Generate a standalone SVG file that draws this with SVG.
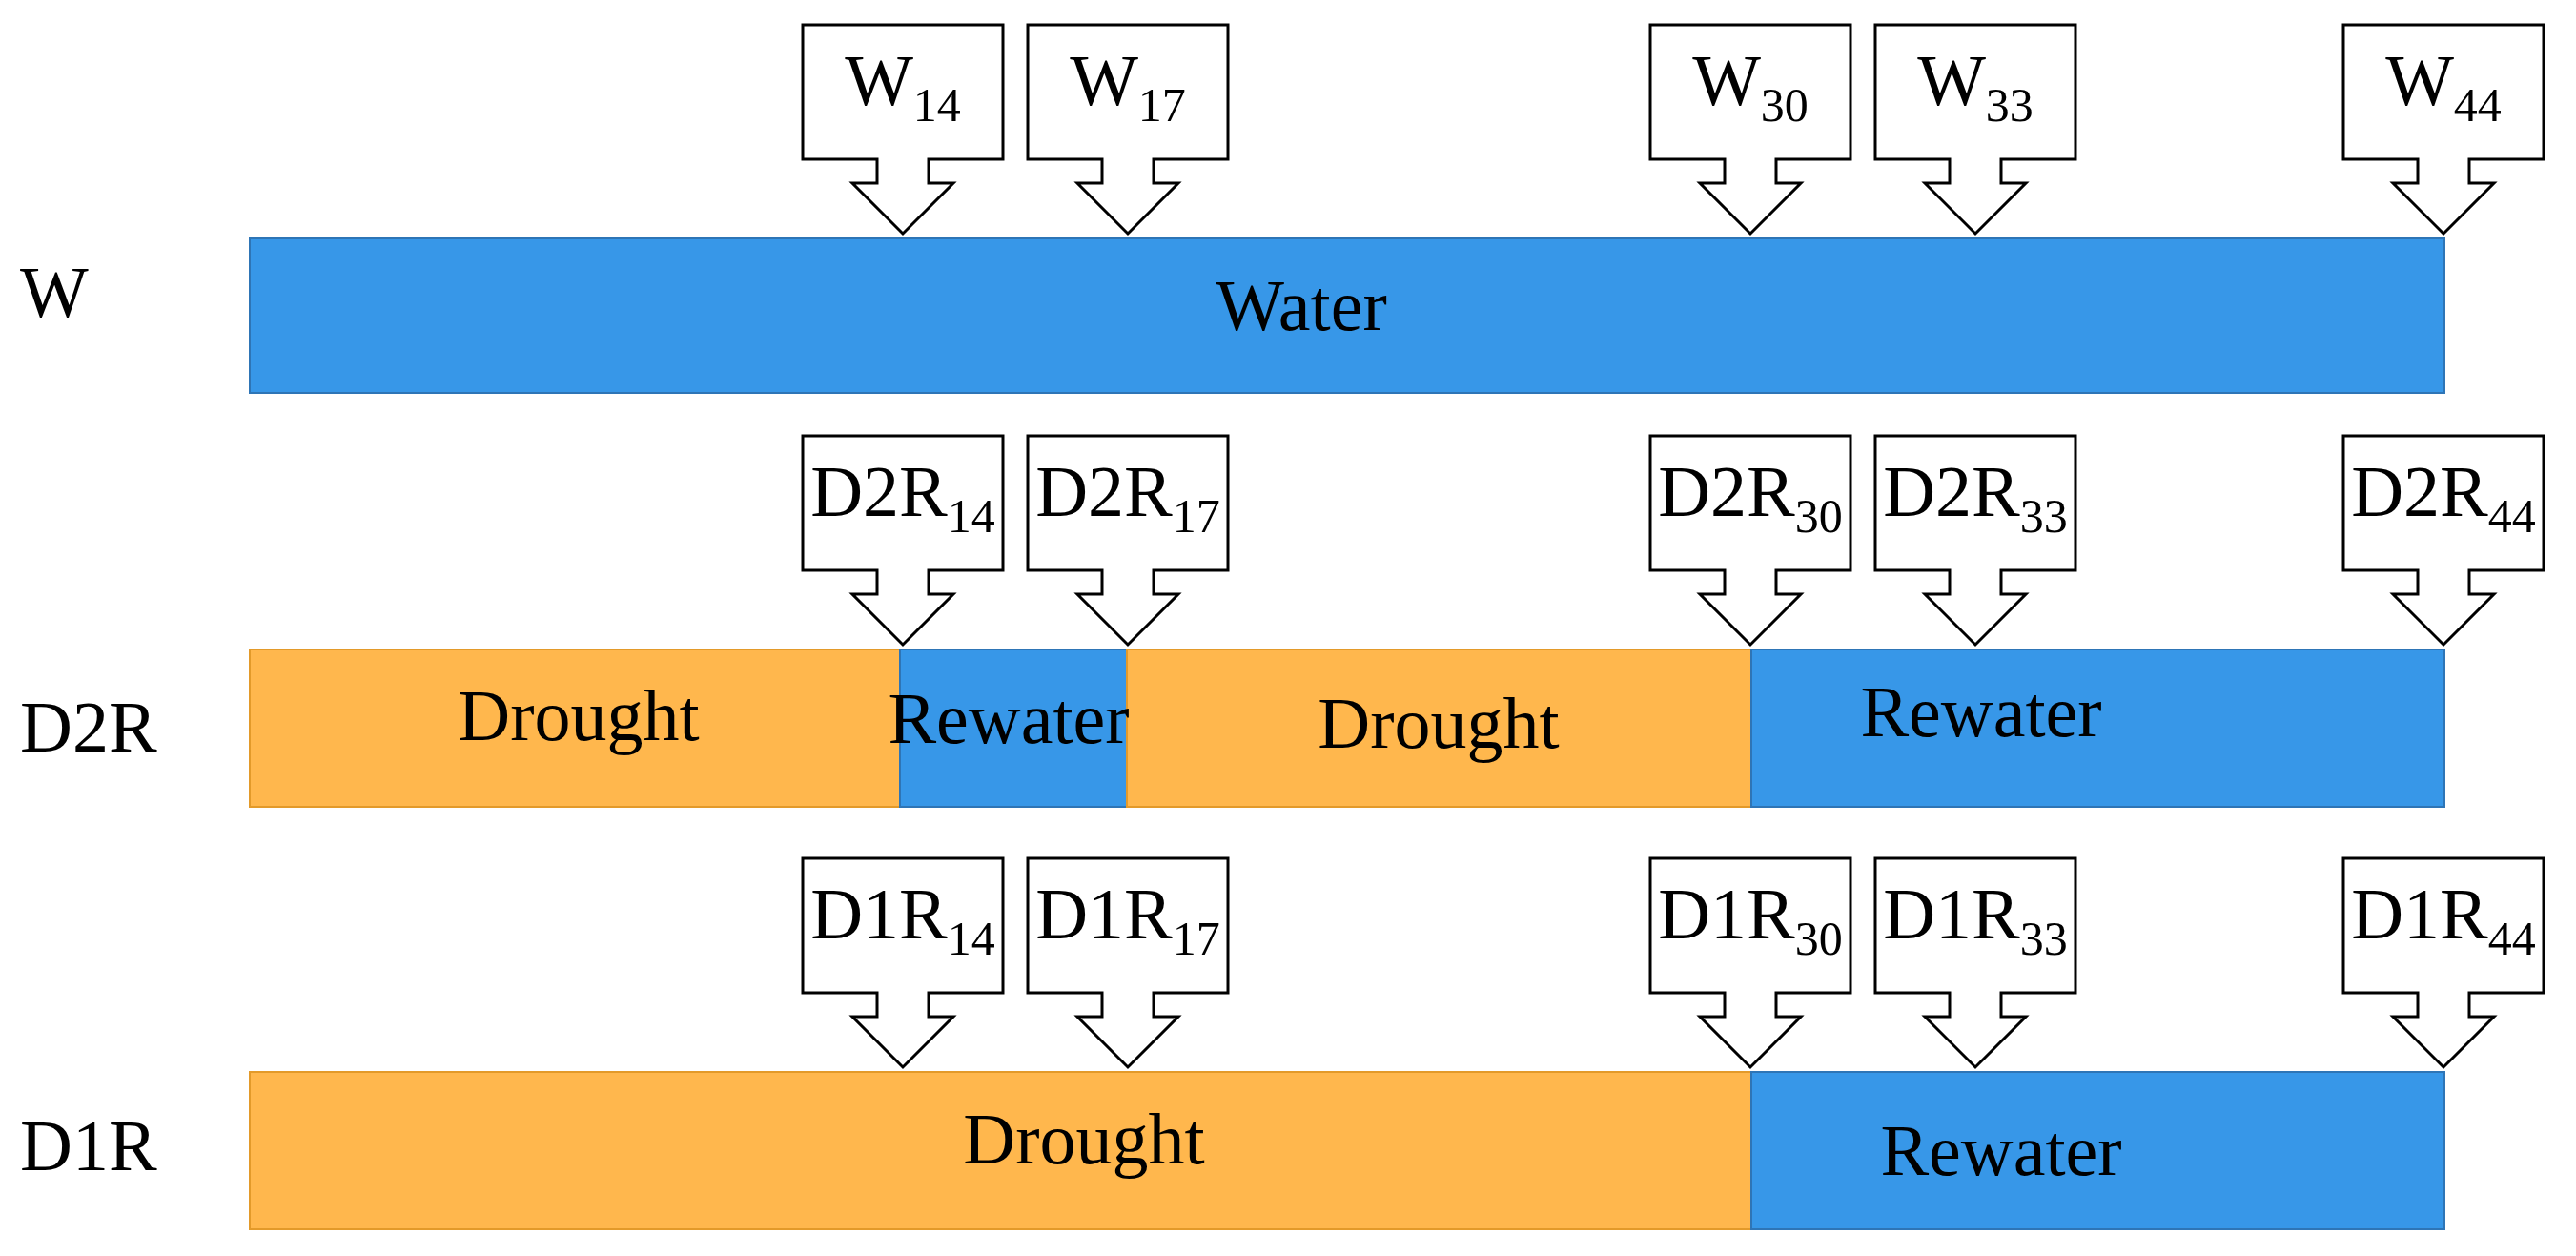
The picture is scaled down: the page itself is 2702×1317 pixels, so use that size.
<svg xmlns="http://www.w3.org/2000/svg" xmlns:xlink="http://www.w3.org/1999/xlink" width="2702" height="1317" viewBox="0 0 2702 1317">
<style>
text{font-family:"Liberation Serif","Times New Roman",serif;fill:#000;font-size:76px}
.c{text-anchor:middle}
.s{font-size:50px}
.blue{fill:#3797E8;stroke:#2E75B6;stroke-width:2}
.orange{fill:#FFB74D;stroke:#E39A2A;stroke-width:2}
.call{fill:#fff;stroke:#000;stroke-width:3;stroke-linejoin:miter}
</style>
<defs>
<path id="co" class="call" d="M-105,0 H105 V141 H27 V166 H53 L0,219 L-53,166 H-27 V141 H-105 Z"/>
</defs>
<rect width="2702" height="1317" fill="#fff"/>
<g id="labels">
<text x="21" y="332">W</text>
<text x="21" y="788">D2R</text>
<text x="21" y="1227">D1R</text>
</g>
<g id="rowW">
<rect class="blue" x="262" y="250" width="2302" height="162"/>
<text class="c" x="1365" y="346">Water</text>
</g>
<g id="rowD2R">
<rect class="orange" x="262" y="681" width="682" height="165"/>
<rect class="blue" x="944" y="681" width="238" height="165"/>
<rect class="orange" x="1182" y="681" width="655" height="165"/>
<rect class="blue" x="1837" y="681" width="727" height="165"/>
<text class="c" x="607" y="776">Drought</text>
<text class="c" x="1058" y="779">Rewater</text>
<text class="c" x="1509" y="784">Drought</text>
<text class="c" x="2078" y="772">Rewater</text>
</g>
<g id="rowD1R">
<rect class="orange" x="262" y="1124" width="1575" height="165"/>
<rect class="blue" x="1837" y="1124" width="727" height="165"/>
<text class="c" x="1137" y="1220">Drought</text>
<text class="c" x="2099" y="1232">Rewater</text>
</g>
<g id="callouts">
<use xlink:href="#co" x="947" y="26"/><use xlink:href="#co" x="1183" y="26"/><use xlink:href="#co" x="1836" y="26"/><use xlink:href="#co" x="2072" y="26"/><use xlink:href="#co" x="2563" y="26"/>
<use xlink:href="#co" x="947" y="457"/><use xlink:href="#co" x="1183" y="457"/><use xlink:href="#co" x="1836" y="457"/><use xlink:href="#co" x="2072" y="457"/><use xlink:href="#co" x="2563" y="457"/>
<use xlink:href="#co" x="947" y="900"/><use xlink:href="#co" x="1183" y="900"/><use xlink:href="#co" x="1836" y="900"/><use xlink:href="#co" x="2072" y="900"/><use xlink:href="#co" x="2563" y="900"/>
<text class="c" x="947" y="110">W<tspan class="s" dy="17">14</tspan></text>
<text class="c" x="1183" y="110">W<tspan class="s" dy="17">17</tspan></text>
<text class="c" x="1836" y="110">W<tspan class="s" dy="17">30</tspan></text>
<text class="c" x="2072" y="110">W<tspan class="s" dy="17">33</tspan></text>
<text class="c" x="2563" y="110">W<tspan class="s" dy="17">44</tspan></text>
<text class="c" x="947" y="541">D2R<tspan class="s" dy="17">14</tspan></text>
<text class="c" x="1183" y="541">D2R<tspan class="s" dy="17">17</tspan></text>
<text class="c" x="1836" y="541">D2R<tspan class="s" dy="17">30</tspan></text>
<text class="c" x="2072" y="541">D2R<tspan class="s" dy="17">33</tspan></text>
<text class="c" x="2563" y="541">D2R<tspan class="s" dy="17">44</tspan></text>
<text class="c" x="947" y="984">D1R<tspan class="s" dy="17">14</tspan></text>
<text class="c" x="1183" y="984">D1R<tspan class="s" dy="17">17</tspan></text>
<text class="c" x="1836" y="984">D1R<tspan class="s" dy="17">30</tspan></text>
<text class="c" x="2072" y="984">D1R<tspan class="s" dy="17">33</tspan></text>
<text class="c" x="2563" y="984">D1R<tspan class="s" dy="17">44</tspan></text>
</g>
</svg>
